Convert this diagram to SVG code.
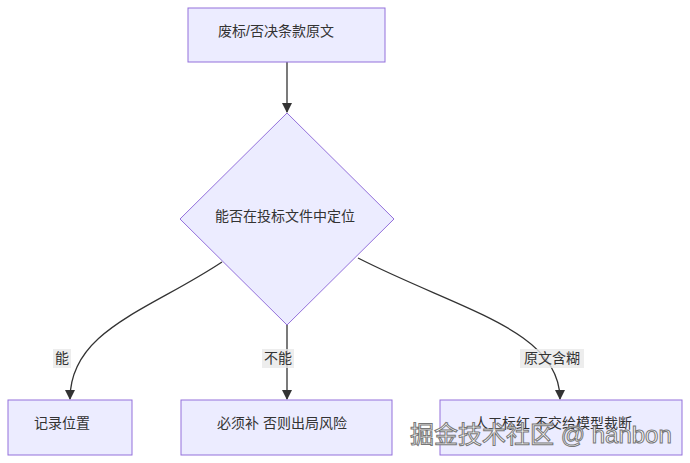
<svg xmlns="http://www.w3.org/2000/svg" width="690" height="463" viewBox="0 0 690 463">
<style>
.n{fill:#ECECFF;stroke:#9370DB;stroke-width:1}
.t{font-family:"Liberation Sans","Noto Sans CJK SC",sans-serif;font-size:14px;fill:#333;text-anchor:middle;dominant-baseline:central}
.e{fill:none;stroke:#333;stroke-width:1.3;marker-end:url(#a)}
.lb{fill:#e8e8e8;opacity:0.8}
</style>
<defs><marker id="a" viewBox="0 0 10 10" refX="9" refY="5" markerWidth="8" markerHeight="8" orient="auto"><path d="M0,0L10,5L0,10z" fill="#333"/></marker></defs>
<rect width="690" height="463" fill="#fff"/>
<g id="edges">
<path class="e" d="M287,62V112"/>
<path class="e" d="M222,262C150,310 70,330 70,399"/>
<path class="e" d="M287,325V399"/>
<path class="e" d="M358,258C460,310 560,330 560,399"/>
<rect class="lb" x="53" y="349" width="18" height="19"/><text class="t" x="62" y="358">能</text>
<rect class="lb" x="262" y="349" width="32" height="19"/><text class="t" x="278" y="358">不能</text>
<rect class="lb" x="520" y="349" width="64" height="19"/><text class="t" x="552" y="358">原文含糊</text>
</g>
<g id="n1"><rect class="n" x="188" y="8" width="197" height="54"/><text class="t" x="276" y="31">废标/否决条款原文</text></g>
<g id="n2"><path class="n" d="M287,113L394,219L287,325L180,219z"/><text class="t" x="285" y="216">能否在投标文件中定位</text></g>
<g id="n3"><rect class="n" x="8" y="400" width="124" height="55"/><text class="t" x="62" y="423">记录位置</text></g>
<g id="n4"><rect class="n" x="181" y="400" width="211" height="55"/><text class="t" x="282" y="423">必须补 否则出局风险</text></g>
<g id="n5"><rect class="n" x="440" y="400" width="242" height="55"/><text class="t" x="553" y="423">人工标红 不交给模型裁断</text></g>
<text x="410" y="443" font-family="Liberation Sans,Noto Sans CJK SC,sans-serif" font-size="24" fill="#fff" stroke="#777" stroke-width="1">掘金技术社区 @ hanbon</text>
</svg>
